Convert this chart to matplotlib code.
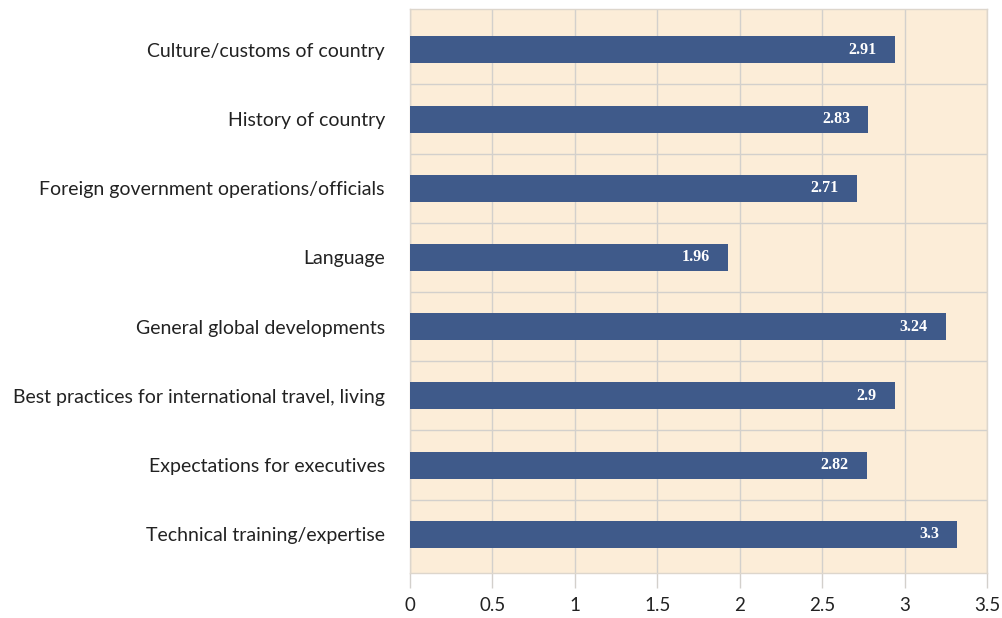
import numpy as np
import matplotlib.pyplot as plt

categories = [
    "Culture/customs of country",
    "History of country",
    "Foreign government operations/officials",
    "Language",
    "General global developments",
    "Best practices for international travel, living",
    "Expectations for executives",
    "Technical training/expertise",
]
# bar lengths as drawn, and the printed labels
values = [2.94, 2.78, 2.71, 1.93, 3.25, 2.94, 2.77, 3.32]
value_labels = ["2.91", "2.83", "2.71", "1.96", "3.24", "2.9", "2.82", "3.3"]
xticks = [0, 0.5, 1, 1.5, 2, 2.5, 3, 3.5]
xtick_labels = ["0", "0.5", "1", "1.5", "2", "2.5", "3", "3.5"]

bg = "#FCEDD8"
bar_color = "#3F5A8A"
grid_color = "#D3D0CC"

fig = plt.figure(figsize=(10.02, 6.18), dpi=100)
ax = fig.add_axes([0.409, 0.0728, 0.576, 0.9126])
ax.set_facecolor(bg)

y = np.arange(len(categories))
ax.barh(y, values, height=0.39, color=bar_color, zorder=3)
for yi, v, lab in zip(y, values, value_labels):
    ax.annotate(lab, (v, yi), xytext=(-13, 0), textcoords="offset points",
                ha="right", va="center", color="white", fontsize=11.5,
                fontweight="bold", family="Liberation Serif", zorder=4)

ax.set_xlim(0, 3.5)
ax.set_ylim(7.56, -0.59)
ax.set_xticks(xticks)
ax.set_xticklabels(xtick_labels, fontsize=13.5, family="Lato", color="#222222")
ax.set_yticks(y)
ax.set_yticklabels(categories, fontsize=14, family="Lato", color="#222222")
ax.set_yticks(np.arange(0.5, len(categories) - 1, 1), minor=True)

ax.tick_params(axis="x", length=11, width=1, color=grid_color, pad=6)
ax.tick_params(axis="y", which="both", length=0, pad=18)
ax.grid(axis="x", color=grid_color, linewidth=1, zorder=1)
ax.grid(axis="y", which="minor", color=grid_color, linewidth=1, zorder=1)
ax.grid(axis="y", which="major", visible=False)
for s in ax.spines.values():
    s.set_color("#DDD6CC")
    s.set_linewidth(1)

fig.savefig("out.png", dpi=100)
